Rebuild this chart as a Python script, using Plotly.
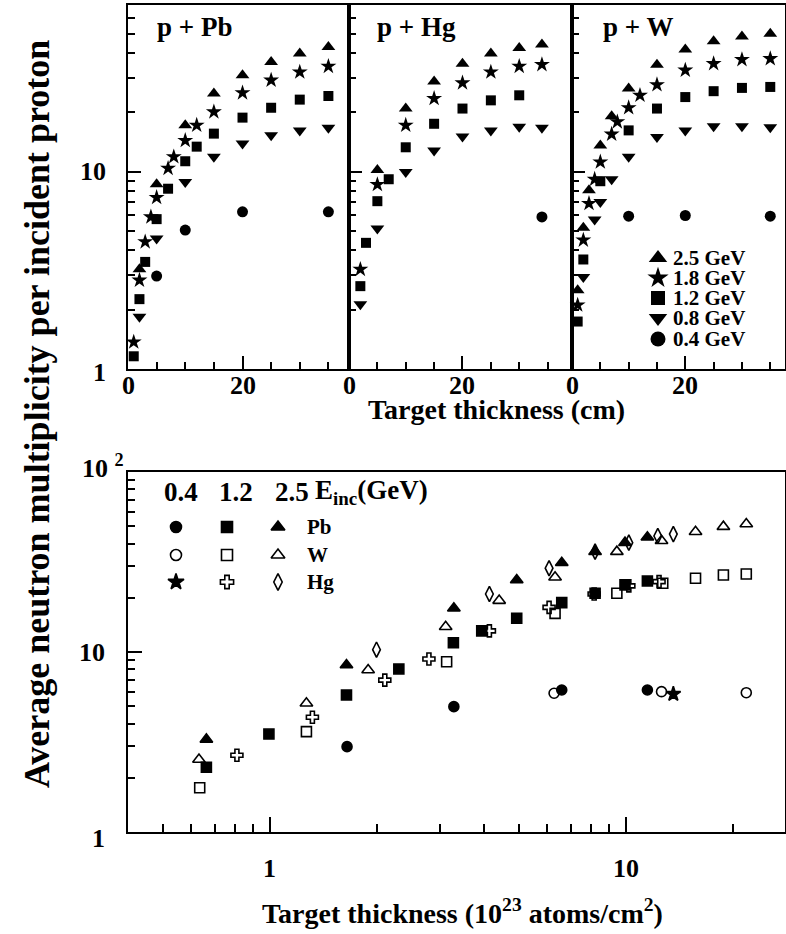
import math
import plotly.graph_objects as go

W, H = 786, 934
FONT = "Liberation Serif"

# ---------------- data: top panels (target thickness in cm) ----------------
ENERGIES = ["2.5 GeV", "1.8 GeV", "1.2 GeV", "0.8 GeV", "0.4 GeV"]

PB_X = {
    "2.5 GeV": [2, 5, 10, 15, 20, 25, 30, 35],
    "1.8 GeV": [1, 2, 3, 4, 5, 7, 8, 10, 12, 15, 20, 25, 30, 35],
    "1.2 GeV": [1, 2, 3, 5, 7, 10, 12, 15, 20, 25, 30, 35],
    "0.8 GeV": [2, 5, 10, 15, 20, 25, 30, 35],
    "0.4 GeV": [5, 10, 20, 35],
}
PB_Y = {
    "2.5 GeV": [3.2, 8.65, 17.2, 24.9, 30.8, 36.0, 39.7, 42.9],
    "1.8 GeV": [1.37, 2.82, 4.41, 5.9, 7.4, 10.4, 11.9, 14.4, 17.2, 20.1, 25.1, 29.1, 32.0, 34.2],
    "1.2 GeV": [1.16, 2.26, 3.49, 5.75, 8.2, 11.3, 13.4, 15.6, 18.8, 21.1, 23.2, 24.2],
    "0.8 GeV": [1.84, 4.59, 8.88, 11.9, 13.9, 15.3, 16.2, 16.7],
    "0.4 GeV": [2.96, 5.06, 6.26, 6.26],
}
HG_X = {
    "2.5 GeV": [5, 10, 15, 20, 25, 30, 34],
    "1.8 GeV": [2, 5, 10, 15, 20, 25, 30, 34],
    "1.2 GeV": [2, 3, 5, 7, 10, 15, 20, 25, 30],
    "0.8 GeV": [2, 5, 10, 15, 20, 25, 30, 34],
    "0.4 GeV": [34],
}
HG_Y = {
    "2.5 GeV": [10.2, 20.9, 28.7, 35.3, 39.7, 42.4, 44.1],
    "1.8 GeV": [3.2, 8.61, 17.2, 23.5, 28.2, 32.0, 34.2, 34.9],
    "1.2 GeV": [2.63, 4.36, 7.09, 9.16, 13.3, 17.5, 20.9, 23.0, 24.4],
    "0.8 GeV": [2.13, 5.16, 9.98, 12.8, 15.1, 16.2, 16.9, 16.7],
    "0.4 GeV": [5.9],
}
W_X = {
    "2.5 GeV": [1, 2, 3, 5, 7, 10, 15, 20, 25, 30, 35],
    "1.8 GeV": [1, 2, 3, 4, 5, 7, 8, 10, 12, 15, 20, 25, 30, 35],
    "1.2 GeV": [1, 2, 5, 10, 15, 20, 25, 30, 35],
    "0.8 GeV": [2, 4, 5, 7, 10, 15, 20, 25, 30, 35],
    "0.4 GeV": [10, 20, 35],
}
W_Y = {
    "2.5 GeV": [2.51, 5.2, 8.06, 13.6, 19.1, 26.4, 34.9, 41.6, 45.9, 48.5, 50.1],
    "1.8 GeV": [2.11, 4.5, 6.9, 9.16, 11.2, 15.5, 17.9, 21.1, 24.4, 27.6, 32.7, 35.3, 37.0, 37.4],
    "1.2 GeV": [1.74, 3.59, 8.95, 16.2, 20.9, 23.9, 25.6, 26.6, 26.9],
    "0.8 GeV": [2.93, 5.73, 7.03, 9.16, 11.9, 15.0, 16.2, 17.0, 17.0, 16.8],
    "0.4 GeV": [5.95, 6.0, 5.95],
}

# ---------------- data: bottom panel (10^23 atoms/cm^2) ----------------
PB04_X = [1.649, 3.29, 6.61, 11.5]
PB04_Y = [2.98, 4.97, 6.15, 6.15]
PB12_X = [0.664, 0.995, 1.643, 2.305, 3.28, 3.94, 4.94, 6.61, 8.2, 9.95, 11.5]
PB12_Y = [2.29, 3.5, 5.77, 8.05, 11.26, 13.1, 15.4, 18.8, 21.2, 23.6, 24.8]
PB25_X = [0.664, 1.643, 3.29, 4.94, 6.61, 8.2, 9.95, 11.5]
PB25_Y = [3.27, 8.47, 17.5, 25.1, 31.3, 36.1, 40.5, 43.4]
W04_X = [6.29, 12.6, 21.8]
W04_Y = [5.9, 6.02, 5.94]
W12_X = [0.636, 1.268, 3.14, 6.33, 9.44, 12.7, 15.7, 18.8, 21.8]
W12_Y = [1.76, 3.61, 8.83, 16.4, 21.2, 24.1, 25.7, 26.8, 27.1]
W25_X = [0.633, 1.268, 1.89, 3.12, 4.41, 6.33, 9.44, 12.6, 15.7, 18.8, 21.8]
W25_Y = [2.53, 5.19, 7.94, 13.8, 19.3, 26.0, 36.1, 41.5, 46.6, 49.7, 51.4]
HG04_X = [13.6]
HG04_Y = [5.84]
HG12_X = [0.809, 1.318, 2.105, 2.80, 4.14, 6.09, 8.15, 10.2, 12.4]
HG12_Y = [2.67, 4.34, 6.98, 9.14, 13.1, 17.7, 21.0, 23.3, 24.6]
HG25_X = [1.995, 4.14, 6.09, 8.2, 10.2, 12.3, 13.6]
HG25_Y = [10.3, 21.0, 29.2, 36.1, 40.5, 44.1, 45.2]

TOP_X_TICKS = [0, 20]
TOP_X_TICK_TEXT = ["0", "20"]
TOP_Y_TICKS = [1, 10]
TOP_Y_TICK_TEXT = ["1", "10"]
BOT_X_TICKS = [1, 10]
BOT_X_TICK_TEXT = ["1", "10"]
BOT_Y_TICKS = [1, 10, 100]
BOT_Y_TICK_TEXT = ["1", "10", "10 <sup>2</sup>"]

# ---------------- styles ----------------
TOP_SYM = {
    "2.5 GeV": ("triangle-up", 12),
    "1.8 GeV": ("star", 12),
    "1.2 GeV": ("square", 10),
    "0.8 GeV": ("triangle-down", 12),
    "0.4 GeV": ("circle", 11),
}

fig = go.Figure()


def px(x):
    return x / W


def py(y):
    return 1 - y / H


# top panels
panels = [(PB_X, PB_Y, "x", "y"), (HG_X, HG_Y, "x2", "y2"), (W_X, W_Y, "x3", "y3")]
for DX, DY, xa, ya in panels:
    for e in ENERGIES:
        sym, sz = TOP_SYM[e]
        fig.add_trace(go.Scatter(
            x=DX[e], y=DY[e], mode="markers", xaxis=xa, yaxis=ya,
            marker=dict(symbol=sym, size=sz, color="black", line=dict(width=0)),
            showlegend=False, cliponaxis=False, name=e))

# bottom panel
bottom = [
    (HG12_X, HG12_Y, "cross-open", 10),
    (HG25_X, HG25_Y, "diamond-tall-open", 11),
    (HG04_X, HG04_Y, "star", 11),
    (W04_X, W04_Y, "circle-open", 10),
    (W12_X, W12_Y, "square-open", 10),
    (W25_X, W25_Y, "triangle-up-open", 11),
    (PB04_X, PB04_Y, "circle", 10),
    (PB12_X, PB12_Y, "square", 10),
    (PB25_X, PB25_Y, "triangle-up", 11),
]
for X, Y, sym, sz in bottom:
    fig.add_trace(go.Scatter(
        x=X, y=Y, mode="markers", xaxis="x4", yaxis="y4",
        marker=dict(symbol=sym, size=sz, color="black", line=dict(width=1.6, color="black")),
        showlegend=False, cliponaxis=False))

# legend keys (separate invisible axis spanning the page, in pixel units)
leg_top_y = [258, 278, 298, 318, 339]
for e, yy in zip(ENERGIES, leg_top_y):
    sym, sz = TOP_SYM[e]
    fig.add_trace(go.Scatter(
        x=[658], y=[yy], mode="markers", xaxis="x5", yaxis="y5",
        marker=dict(symbol=sym, size=sz + 4, color="black", line=dict(width=0)),
        showlegend=False, cliponaxis=False, hoverinfo="skip"))

leg_cols = [176, 227, 278]
leg_rows = [527, 555, 582]
leg_syms = [
    [("circle", 11), ("square", 11), ("triangle-up", 12)],
    [("circle-open", 11), ("square-open", 11), ("triangle-up-open", 12)],
    [("star", 12), ("cross-open", 11), ("diamond-tall-open", 12)],
]
for r, yy in enumerate(leg_rows):
    for c, xx in enumerate(leg_cols):
        sym, sz = leg_syms[r][c]
        fig.add_trace(go.Scatter(
            x=[xx], y=[yy], mode="markers", xaxis="x5", yaxis="y5",
            marker=dict(symbol=sym, size=sz, color="black", line=dict(width=1.6, color="black")),
            showlegend=False, cliponaxis=False, hoverinfo="skip"))


def lin_x(domain, rng, anchor):
    return dict(domain=domain, range=rng, anchor=anchor, showgrid=False, zeroline=False,
                showline=True, linecolor="black", linewidth=2, mirror=True,
                ticks="inside", ticklen=13, tickwidth=1.5, tickcolor="black",
                tickvals=TOP_X_TICKS, showticklabels=False,
                minor=dict(ticks="inside", ticklen=7, tickwidth=1.5, tickcolor="black",
                           tickvals=[5, 10, 15, 25, 30, 35]))


def log_y_top(anchor):
    return dict(domain=[py(369), py(5)], type="log", range=[0, math.log10(70)], anchor=anchor,
                showgrid=False, zeroline=False, showline=True, linecolor="black",
                linewidth=2, mirror=True, ticks="inside", ticklen=13, tickwidth=1.5,
                tickcolor="black", tickvals=TOP_Y_TICKS, showticklabels=False,
                minor=dict(ticks="inside", ticklen=7, tickwidth=1.5, tickcolor="black",
                           tickvals=[2, 3, 4, 5, 6, 7, 8, 9, 20, 30, 40, 50, 60]))


layout = dict(
    width=W, height=H, margin=dict(l=0, r=0, t=0, b=0),
    paper_bgcolor="white", plot_bgcolor="rgba(0,0,0,0)",
    font=dict(family=FONT, color="black", weight="bold"),
    showlegend=False,
    xaxis=lin_x([px(128), px(349)], [0, 38.6], "y"),
    xaxis2=lin_x([px(349), px(572)], [0, 39.3], "y2"),
    xaxis3=lin_x([px(572), px(785)], [0, 37.6], "y3"),
    yaxis=log_y_top("x"),
    yaxis2=log_y_top("x2"),
    yaxis3=log_y_top("x3"),
    xaxis4=dict(domain=[px(128), px(785)], type="log",
                range=[math.log10(0.4), math.log10(28)], anchor="y4",
                showgrid=False, zeroline=False, showline=True, linecolor="black",
                linewidth=2, mirror=True, ticks="inside", ticklen=15, tickwidth=1.5,
                tickcolor="black", tickvals=BOT_X_TICKS, showticklabels=False,
                minor=dict(ticks="inside", ticklen=8, tickwidth=1.5, tickcolor="black",
                           tickvals=[0.5, 0.6, 0.7, 0.8, 0.9, 2, 3, 4, 5, 6, 7, 8, 9, 20])),
    yaxis4=dict(domain=[py(832), py(472)], type="log", range=[0, 2], anchor="x4",
                showgrid=False, zeroline=False, showline=True, linecolor="black",
                linewidth=2, mirror=True, ticks="inside", ticklen=14, tickwidth=1.5,
                tickcolor="black", tickvals=BOT_Y_TICKS, showticklabels=False,
                minor=dict(ticks="inside", ticklen=7, tickwidth=1.5, tickcolor="black",
                           tickvals=[2, 3, 4, 5, 6, 7, 8, 9, 20, 30, 40, 50, 60, 70, 80, 90])),
    xaxis5=dict(domain=[0, 1], range=[0, W], anchor="y5", visible=False, fixedrange=True),
    yaxis5=dict(domain=[0, 1], range=[H, 0], anchor="x5", visible=False, fixedrange=True),
)


def font(size):
    return dict(family=FONT, size=size, color="black", weight="bold")


def ann(text, x, y, size, xanchor="center", yanchor="middle", angle=0):
    return dict(text=text, x=px(x), y=py(y), xref="paper", yref="paper",
                xanchor=xanchor, yanchor=yanchor, showarrow=False, textangle=angle,
                font=font(size))


annotations = [
    ann("p + Pb", 155, 27, 27, xanchor="left"),
    ann("p + Hg", 375, 27, 27, xanchor="left"),
    ann("p + W", 601, 27, 27, xanchor="left"),
    ann("Target thickness (cm)", 497, 409, 28),
    ann("Target thickness (10<sup>23</sup> atoms/cm<sup>2</sup>)", 462, 911, 28),
    ann("Average neutron multiplicity per incident proton", 37, 414, 36, angle=-90),
    ann("0.4", 181, 492, 27),
    ann("1.2", 236, 492, 27),
    ann("2.5", 292, 492, 27),
    ann("E<sub>inc</sub>(GeV)", 313, 492, 27, xanchor="left"),
    ann("Pb", 305, 527, 21, xanchor="left"),
    ann("W", 305, 555, 21, xanchor="left"),
    ann("Hg", 305, 582, 21, xanchor="left"),
]
for e, yy in zip(ENERGIES, leg_top_y):
    annotations.append(ann(e, 671, yy, 21, xanchor="left"))

# tick labels (placed at the axes' own tick values)
for xa in ["x", "x2", "x3"]:
    for v, t in zip(TOP_X_TICKS, TOP_X_TICK_TEXT):
        annotations.append(dict(text=t, x=v, y=py(385), xref=xa, yref="paper",
                                xanchor="center", yanchor="middle", showarrow=False,
                                font=font(26)))
for v, t in zip(TOP_Y_TICKS, TOP_Y_TICK_TEXT):
    annotations.append(dict(text=t, x=px(108), y=math.log10(v), xref="paper", yref="y",
                            xanchor="right", yanchor="middle", showarrow=False,
                            yshift=-3 if v == 1 else 0, font=font(26)))
for v, t in zip(BOT_X_TICKS, BOT_X_TICK_TEXT):
    annotations.append(dict(text=t, x=math.log10(v), y=py(868), xref="x4", yref="paper",
                            xanchor="center", yanchor="middle", showarrow=False,
                            font=font(26)))
for v, t in zip(BOT_Y_TICKS, BOT_Y_TICK_TEXT):
    shift = {1: -6, 10: 0, 100: 6}[v]
    annotations.append(dict(text=t, x=px(126 if v == 100 else 107), y=math.log10(v),
                            xref="paper", yref="y4", xanchor="right", yanchor="middle",
                            showarrow=False, yshift=shift, font=font(26)))

layout["annotations"] = annotations
fig.update_layout(**layout)
fig.write_html("out.html")
